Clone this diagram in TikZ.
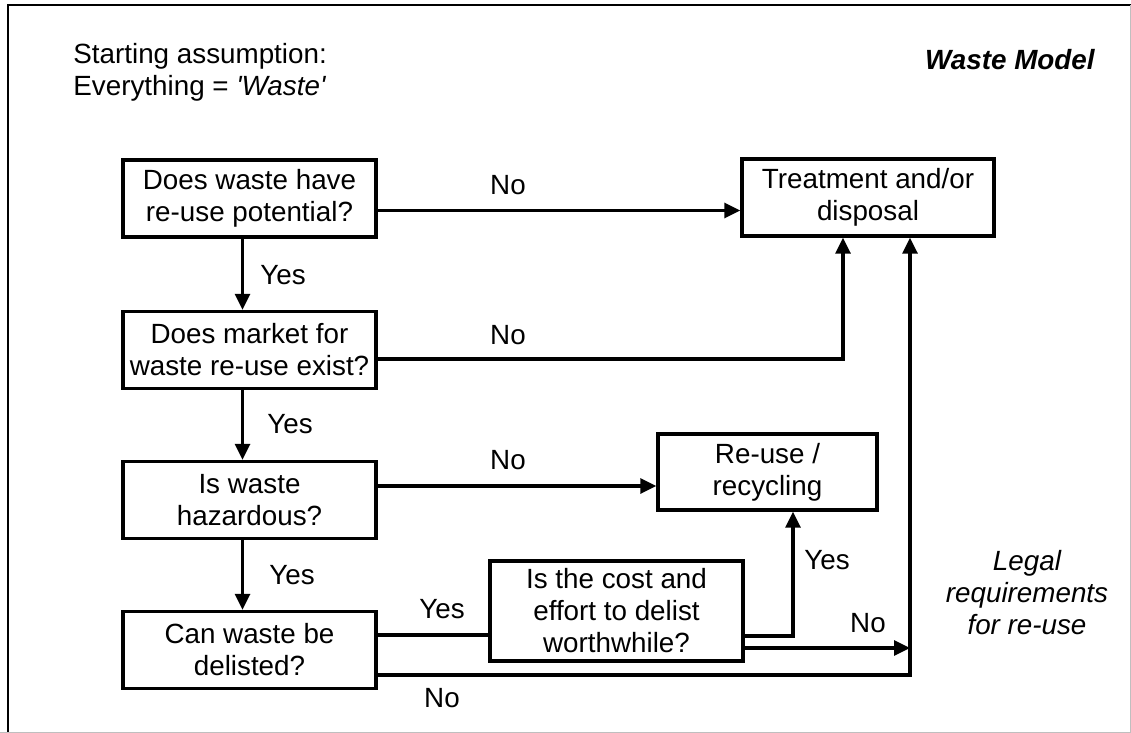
\documentclass[tikz,border=0pt]{standalone}
\usepackage{fontspec}
\setmainfont{Liberation Sans}
\usetikzlibrary{arrows.meta}

\begin{document}
\begin{tikzpicture}[x=0.5pt, y=-0.5pt,
    font=\fontsize{13.9}{16}\selectfont,
    box/.style={draw, line width=1.7pt, align=center, inner sep=0pt,
        minimum width=126.5pt, minimum height=38.5pt},
    flow/.style={line width=1.6pt, -{Triangle[length=8pt,width=7.5pt]}},
    plain/.style={line width=1.6pt},
    lbl/.style={inner sep=0pt}]
    % Page size
    \useasboundingbox (0,0) rectangle (1131,733);

    % Draw frame
    \draw[line width=1.4pt] (8,733) -- (8,5) -- (1131,5);
    \draw[black!25, line width=0.5pt] (0,732) -- (1130,732) -- (1130,5);

    % Titles
    \node[lbl, anchor=west, align=left] (start) at (73,72.5)
        {Starting assumption:\\Everything = \textit{\textquotesingle Waste\textquotesingle}};
    \node[lbl, anchor=east, font=\fontsize{13.9}{16}\selectfont\bfseries\itshape] (title) at (1095,60) {Waste Model};
    \node[lbl, align=center, font=\fontsize{13.9}{16}\selectfont\itshape] (legal) at (1027,593)
        {Legal\\requirements\\for re-use};

    % Draw the questions
    \node[box] (potential) at (249.5,198.5) {Does waste have\\re-use potential?};
    \node[box] (market) at (249.5,350) {Does market for\\waste re-use exist?};
    \node[box] (hazard) at (249.5,500) {Is waste\\hazardous?};
    \node[box] (delist) at (249.5,650) {Can waste be\\delisted?};
    \node[box, minimum height=50pt] (cost) at (616.5,611) {Is the cost and\\effort to delist\\worthwhile?};

    % Draw the outcomes
    \node[box, minimum width=126pt] (treat) at (868,197.5) {Treatment and/or\\disposal};
    \node[box, minimum width=109.5pt, minimum height=38pt] (reuse) at (767.5,472) {Re-use /\\recycling};

    % Corner of the legal line
    \coordinate (corner) at (910,675);

    % Yes branches
    \draw[flow] ([xshift=-3.5pt]potential.south) -- ([xshift=-3.5pt]market.north);
    \draw[flow] ([xshift=-3.5pt]market.south) -- ([xshift=-3.5pt]hazard.north);
    \draw[flow] ([xshift=-3.5pt]hazard.south) -- ([xshift=-3.5pt]delist.north);
    \draw[plain] ([yshift=7.5pt]delist.east) -- ([yshift=7.5pt]delist.east -| cost.west);
    \draw[flow] ([yshift=-12.5pt]cost.east) -| ([xshift=12.75pt]reuse.south);

    % No branches
    \draw[flow] ([yshift=-6pt]potential.east) -- ([yshift=-6pt]potential.east -| treat.west);
    \draw[flow] ([yshift=-4.5pt]market.east) -| ([xshift=-12.5pt]treat.south);
    \draw[flow] ([yshift=7pt]hazard.east) -- ([yshift=7pt]hazard.east -| reuse.west);
    \draw[flow] ([yshift=-18.5pt]cost.east) -- ([yshift=-18.5pt]cost.east -| corner);
    \draw[flow] ([yshift=-12.5pt]delist.east) -- (corner) -- (corner |- treat.south);

    % Labels
    \node[lbl] (yes1) at (283,275) {Yes};
    \node[lbl] (yes2) at (290,424) {Yes};
    \node[lbl] (yes3) at (292,575) {Yes};
    \node[lbl] (yes4) at (442,609) {Yes};
    \node[lbl] (yes5) at (827,560) {Yes};
    \node[lbl] (no1) at (508,185) {No};
    \node[lbl] (no2) at (508,335) {No};
    \node[lbl] (no3) at (508,460) {No};
    \node[lbl] (no4) at (868,623) {No};
    \node[lbl] (no5) at (442,698) {No};

\end{tikzpicture}
\end{document}
